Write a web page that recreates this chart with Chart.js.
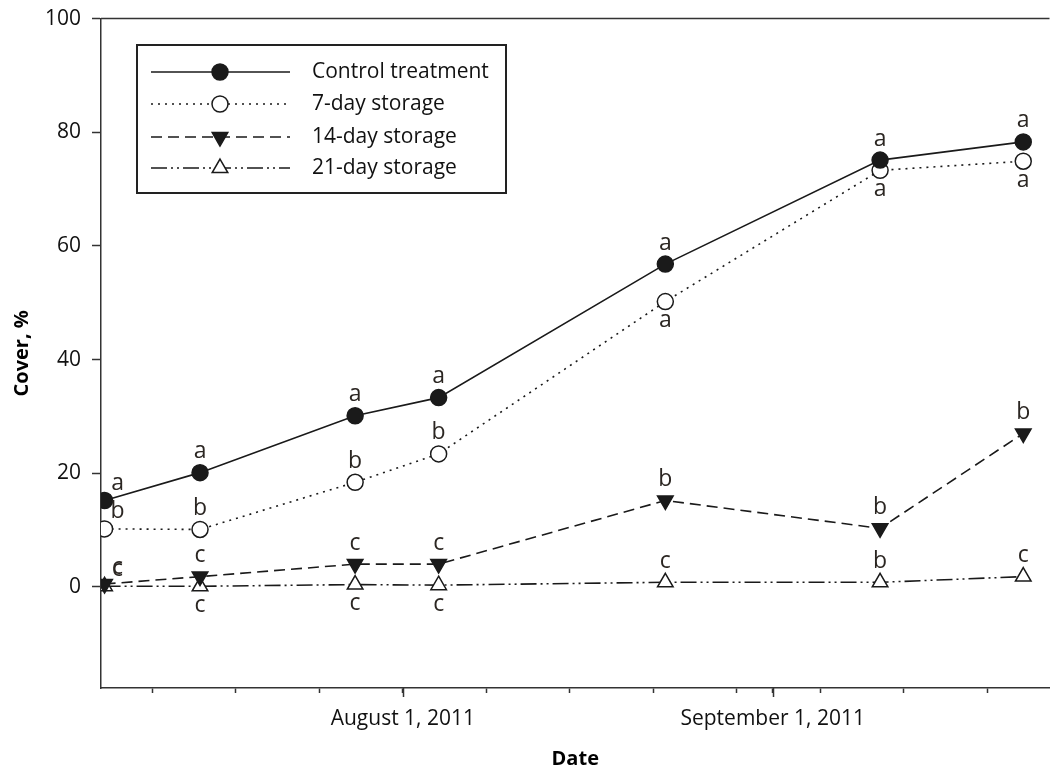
<!DOCTYPE html>
<html>
<head>
<meta charset="utf-8">
<script src="https://cdn.jsdelivr.net/npm/chart.js@4/dist/chart.umd.min.js"></script>
<style>
  html, body { margin:0; padding:0; background:#fff; overflow:hidden; }
  #wrap { width:1060px; height:779px; position:relative; margin-top:-5px; }
</style>
</head>
<body>
<div id="wrap"><canvas id="chart"></canvas></div>
<script>
// sampling dates and cover values (%)
const sampleDates = ['2011-07-07','2011-07-15','2011-07-28','2011-08-04','2011-08-23','2011-09-10','2011-09-22'];
const control = [15.2, 20.1, 30.1, 33.3, 56.8, 75.1, 78.3];
const day7    = [10.2, 10.1, 18.4, 23.4, 50.2, 73.3, 74.9];
const day14   = [0.5, 1.8, 4.0, 4.0, 15.2, 10.3, 27.0];
const day21   = [0.1, 0.1, 0.4, 0.3, 0.8, 0.8, 1.8];
const seriesNames = ['Control treatment','7-day storage','14-day storage','21-day storage'];

// significance letters and where they sit (ar = above-right, a = above, b = below)
const controlLetters = ['a','a','a','a','a','a','a'];
const day7Letters    = ['b','b','b','b','a','a','a'];
const day14Letters   = ['c','c','c','c','b','b','b'];
const day21Letters   = ['c','c','c','c','c','b','c'];
const controlSide = ['ar','a','a','a','a','a','a'];
const day7Side    = ['ar','a','a','a','b','b','b'];
const day14Side   = ['ar','a','a','a','a','a','a'];
const day21Side   = ['ar','b','b','b','a','a','a'];

const yTicks = [0, 20, 40, 60, 80, 100];
const xTickDates = ['2011-07-11','2011-07-18','2011-07-25','2011-08-01','2011-08-08','2011-08-15','2011-08-22','2011-08-29','2011-09-01','2011-09-05','2011-09-12','2011-09-19'];
const xLabels = {'2011-08-01':'August 1, 2011', '2011-09-01':'September 1, 2011'};

// days counted from August 1, 2011
const base = Date.UTC(2011,7,1);
function dayOf(s){ const p=s.split('-'); return (Date.UTC(+p[0],+p[1]-1,+p[2])-base)/86400000; }
const xs = sampleDates.map(dayOf);
const labelByDay = {};
Object.keys(xLabels).forEach(k => labelByDay[dayOf(k)] = xLabels[k]);

const FONT = "'Open Sans', 'DejaVu Sans', sans-serif";
const INK = '#1a1a1a';

function pts(vals){ return vals.map((v,i)=>({x:xs[i], y:v})); }

const datasets = [
  {label:seriesNames[0], data:pts(control), borderColor:INK, borderWidth:1.6, borderDash:[],
   pointStyle:'circle', pointRadius:8, pointBackgroundColor:INK, pointBorderColor:INK, pointBorderWidth:1.5,
   letters:controlLetters, sides:controlSide},
  {label:seriesNames[1], data:pts(day7), borderColor:INK, borderWidth:1.6, borderDash:[2,5],
   pointStyle:'circle', pointRadius:8, pointBackgroundColor:'#fff', pointBorderColor:INK, pointBorderWidth:1.5,
   letters:day7Letters, sides:day7Side},
  {label:seriesNames[2], data:pts(day14), borderColor:INK, borderWidth:1.6, borderDash:[11,6],
   pointStyle:'triangle', pointRotation:180, pointRadius:9, pointBackgroundColor:INK, pointBorderColor:INK, pointBorderWidth:1.5,
   letters:day14Letters, sides:day14Side},
  {label:seriesNames[3], data:pts(day21), borderColor:INK, borderWidth:1.6, borderDash:[16,4,2,4,2,4],
   pointStyle:'triangle', pointRotation:0, pointRadius:9, pointBackgroundColor:'#fff', pointBorderColor:INK, pointBorderWidth:1.5,
   letters:day21Letters, sides:day21Side}
];
datasets.forEach(d => { d.fill=false; d.tension=0; d.showLine=true; });

const extras = {
  id:'extras',
  afterDatasetsDraw(chart){
    const ctx = chart.ctx, ca = chart.chartArea, xsc = chart.scales.x;
    ctx.save();
    // top frame line
    ctx.strokeStyle = '#333'; ctx.lineWidth = 1.5;
    ctx.beginPath(); ctx.moveTo(ca.left, ca.top); ctx.lineTo(ca.right, ca.top); ctx.stroke();
    // longer ticks at labelled dates
    Object.keys(labelByDay).forEach(d => {
      const px = Math.round(xsc.getPixelForValue(+d)) + 0.5;
      ctx.beginPath(); ctx.moveTo(px, ca.bottom); ctx.lineTo(px, ca.bottom + 9); ctx.stroke();
    });
    // letters
    ctx.fillStyle = '#2b2622';
    ctx.font = '23px ' + FONT;
    ctx.textAlign = 'center'; ctx.textBaseline = 'middle';
    chart.data.datasets.forEach((ds, i) => {
      const meta = chart.getDatasetMeta(i);
      meta.data.forEach((pt, j) => {
        const side = ds.sides[j];
        let x = pt.x, y = pt.y;
        if (side === 'ar') { x += 13; y -= 17; }
        else if (side === 'a') { y -= 21; }
        else { y += 19; }
        ctx.fillText(ds.letters[j], x, y);
      });
    });
    // legend box (canvas is shifted up by 5px)
    const bx = 137, by = 50, bw = 369, bh = 148;
    ctx.fillStyle = '#fff';
    ctx.fillRect(bx, by, bw, bh);
    ctx.strokeStyle = '#222'; ctx.lineWidth = 2;
    ctx.strokeRect(bx, by, bw, bh);
    const rows = [77, 109, 142, 173];
    chart.data.datasets.forEach((ds, i) => {
      const y = rows[i];
      ctx.strokeStyle = INK; ctx.lineWidth = 1.6;
      ctx.setLineDash(ds.borderDash);
      ctx.beginPath(); ctx.moveTo(151, y); ctx.lineTo(290, y); ctx.stroke();
      ctx.setLineDash([]);
      ctx.fillStyle = ds.pointBackgroundColor; ctx.strokeStyle = ds.pointBorderColor; ctx.lineWidth = ds.pointBorderWidth;
      Chart.helpers.drawPoint(ctx, {pointStyle:ds.pointStyle, rotation:ds.pointRotation||0, radius:ds.pointRadius, borderWidth:ds.pointBorderWidth}, 220, y);
      ctx.fillStyle = '#111'; ctx.font = '21px ' + FONT;
      ctx.textAlign = 'left'; ctx.textBaseline = 'middle';
      ctx.fillText(ds.label, 312, y);
    });
    ctx.restore();
  }
};

new Chart(document.getElementById('chart'), {
  type:'line',
  data:{datasets},
  plugins:[extras],
  options:{
    responsive:true, maintainAspectRatio:false, animation:false,
    layout:{padding:{top:12, right:0, left:0, bottom:0}},
    plugins:{legend:{display:false}, tooltip:{enabled:false}},
    scales:{
      x:{
        type:'linear', min:-25.3, max:54.2,
        afterBuildTicks: s => { s.ticks = xTickDates.map(d => ({value:dayOf(d)})); },
        afterFit: s => { s.height = 86; },
        ticks:{autoSkip:false, maxRotation:0, padding:13, color:'#111', font:{family:FONT, size:21},
               callback: v => labelByDay[v] || ''},
        grid:{drawOnChartArea:false, drawTicks:true, tickLength:5, tickColor:'#333', tickWidth:1.5},
        border:{display:true, color:'#333', width:1.5},
        title:{display:true, text:'Date', color:'#000', font:{family:FONT, size:20, weight:'bold'}, padding:{top:0, bottom:3}}
      },
      y:{
        min:-17.8, max:100,
        afterBuildTicks: s => { s.ticks = yTicks.map(v => ({value:v})); },
        afterFit: s => { s.width = 101; },
        ticks:{padding:11, color:'#111', font:{family:FONT, size:21}},
        grid:{drawOnChartArea:false, drawTicks:true, tickLength:9, tickColor:'#333', tickWidth:1.5},
        border:{display:true, color:'#333', width:1.5},
        title:{display:true, text:'Cover, %', color:'#000', font:{family:FONT, size:20, weight:'bold'}, padding:{top:10, bottom:0}}
      }
    }
  }
});
</script>
</body>
</html>
